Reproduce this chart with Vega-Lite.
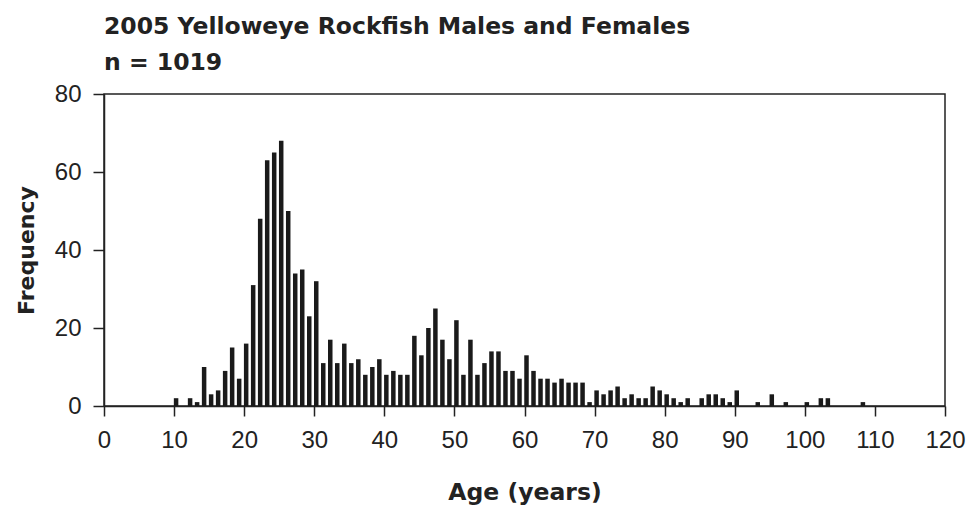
{
  "$schema": "https://vega.github.io/schema/vega-lite/v6.json",
  "width": 841,
  "height": 312,
  "autosize": {"type": "none"},
  "padding": {"left": 104, "top": 94, "right": 26, "bottom": 102},
  "background": "white",
  "title": {
    "text": ["2005 Yelloweye Rockfish Males and Females", "n = 1019"],
    "anchor": "start",
    "frame": "group",
    "dx": 0,
    "offset": 8,
    "font": "DejaVu Sans",
    "fontSize": 23.5,
    "fontWeight": "bold",
    "lineHeight": 36,
    "color": "#222222"
  },
  "config": {
    "view": {"stroke": "#222222", "strokeWidth": 1.5},
    "axis": {
      "labelFont": "Liberation Sans",
      "labelFontSize": 24,
      "labelColor": "#222222",
      "titleFont": "DejaVu Sans",
      "titleFontSize": 22,
      "titleFontWeight": "bold",
      "titleColor": "#222222",
      "domainColor": "#222222",
      "domainWidth": 1.5,
      "tickColor": "#222222",
      "tickWidth": 1.5,
      "grid": false
    }
  },
  "data": {
    "values": [
      {"age": 10, "frequency": 2}, {"age": 12, "frequency": 2}, {"age": 13, "frequency": 1},
      {"age": 14, "frequency": 10}, {"age": 15, "frequency": 3}, {"age": 16, "frequency": 4},
      {"age": 17, "frequency": 9}, {"age": 18, "frequency": 15}, {"age": 19, "frequency": 7},
      {"age": 20, "frequency": 16}, {"age": 21, "frequency": 31}, {"age": 22, "frequency": 48},
      {"age": 23, "frequency": 63}, {"age": 24, "frequency": 65}, {"age": 25, "frequency": 68},
      {"age": 26, "frequency": 50}, {"age": 27, "frequency": 34}, {"age": 28, "frequency": 35},
      {"age": 29, "frequency": 23}, {"age": 30, "frequency": 32}, {"age": 31, "frequency": 11},
      {"age": 32, "frequency": 17}, {"age": 33, "frequency": 11}, {"age": 34, "frequency": 16},
      {"age": 35, "frequency": 11}, {"age": 36, "frequency": 12}, {"age": 37, "frequency": 8},
      {"age": 38, "frequency": 10}, {"age": 39, "frequency": 12}, {"age": 40, "frequency": 8},
      {"age": 41, "frequency": 9}, {"age": 42, "frequency": 8}, {"age": 43, "frequency": 8},
      {"age": 44, "frequency": 18}, {"age": 45, "frequency": 13}, {"age": 46, "frequency": 20},
      {"age": 47, "frequency": 25}, {"age": 48, "frequency": 17}, {"age": 49, "frequency": 12},
      {"age": 50, "frequency": 22}, {"age": 51, "frequency": 8}, {"age": 52, "frequency": 17},
      {"age": 53, "frequency": 8}, {"age": 54, "frequency": 11}, {"age": 55, "frequency": 14},
      {"age": 56, "frequency": 14}, {"age": 57, "frequency": 9}, {"age": 58, "frequency": 9},
      {"age": 59, "frequency": 7}, {"age": 60, "frequency": 13}, {"age": 61, "frequency": 9},
      {"age": 62, "frequency": 7}, {"age": 63, "frequency": 7}, {"age": 64, "frequency": 6},
      {"age": 65, "frequency": 7}, {"age": 66, "frequency": 6}, {"age": 67, "frequency": 6},
      {"age": 68, "frequency": 6}, {"age": 69, "frequency": 1}, {"age": 70, "frequency": 4},
      {"age": 71, "frequency": 3}, {"age": 72, "frequency": 4}, {"age": 73, "frequency": 5},
      {"age": 74, "frequency": 2}, {"age": 75, "frequency": 3}, {"age": 76, "frequency": 2},
      {"age": 77, "frequency": 2}, {"age": 78, "frequency": 5}, {"age": 79, "frequency": 4},
      {"age": 80, "frequency": 3}, {"age": 81, "frequency": 2}, {"age": 82, "frequency": 1},
      {"age": 83, "frequency": 2}, {"age": 85, "frequency": 2}, {"age": 86, "frequency": 3},
      {"age": 87, "frequency": 3}, {"age": 88, "frequency": 2}, {"age": 89, "frequency": 1},
      {"age": 90, "frequency": 4}, {"age": 93, "frequency": 1}, {"age": 95, "frequency": 3},
      {"age": 97, "frequency": 1}, {"age": 100, "frequency": 1}, {"age": 102, "frequency": 2},
      {"age": 103, "frequency": 2}, {"age": 108, "frequency": 1}
    ]
  },
  "mark": {"type": "bar", "width": 4.5, "color": "#1a1a1a", "xOffset": 2},
  "encoding": {
    "x": {
      "field": "age",
      "type": "quantitative",
      "scale": {"domain": [0, 120], "nice": false, "padding": 0},
      "axis": {
        "title": "Age (years)",
        "titleFontSize": 23.5,
        "values": [0, 10, 20, 30, 40, 50, 60, 70, 80, 90, 100, 110, 120],
        "tickSize": 10,
        "labelPadding": 12,
        "titlePadding": 28,
        "labelFlush": false
      }
    },
    "y": {
      "field": "frequency",
      "type": "quantitative",
      "scale": {"domain": [0, 80], "nice": false},
      "axis": {
        "title": "Frequency",
        "values": [0, 20, 40, 60, 80],
        "tickSize": 11,
        "labelPadding": 12,
        "titlePadding": 16
      }
    }
  }
}
